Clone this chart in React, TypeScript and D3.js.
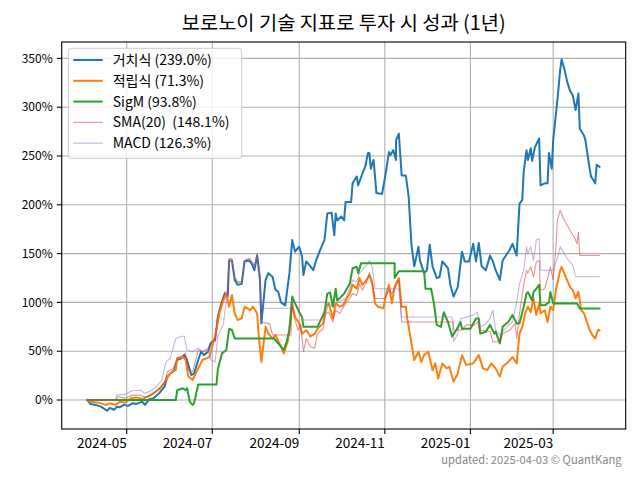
import React from "react";
import * as d3 from "d3";

const title = "보로노이 기술 지표로 투자 시 성과 (1년)";
const footer = "updated: 2025-04-03 © QuantKang";
const startDate = "2024-04-03";

const seriesNames = ["거치식 (239.0%)", "적립식 (71.3%)", "SigM (93.8%)", "SMA(20)\u00a0 (148.1%)", "MACD (126.3%)"];
const seriesColors = ["#1f77b4", "#ff7f0e", "#2ca02c", "#d62728", "#9467bd"];

const xTickLabels = ["2024-05", "2024-07", "2024-09", "2024-11", "2025-01", "2025-03"];
const yTickValues = [0, 50, 100, 150, 200, 250, 300, 350];

// days since start date, cumulative return (%)
const lumpDays = [0,2,6,10,14,16,19,21,23,26,29,32,35,39,41,44,47,51,55,57,59,62,64,67,69,71,74,76,79,81,83,86,88,91,93,95,98,100,101,103,105,107,110,112,115,117,119,121,123,124,127,129,132,134,136,138,141,144,146,148,151,153,154,156,159,161,163,166,169,171,174,176,177,178,181,183,184,188,189,192,193,196,198,200,201,202,204,206,210,212,215,216,218,220,220,222,224,227,229,231,233,236,237,240,242,244,246,249,251,253,257,259,261,264,267,269,272,275,277,279,281,284,287,289,291,294,296,301,303,306,308,310,311,313,314,316,317,319,322,323,326,328,329,331,332,335,337,338,340,342,344,346,348,350,351,354,355,358,359,362,363,365];
const lumpValues = [0,-4,-5,-7,-11,-8,-10,-7,-7.5,-5,-6,-3.4,-4,-1.7,-5,0.7,1.7,6.8,13.7,24,27,30.7,41,42.7,46,41,25.6,27,41,49.5,46,49.5,58,61,85,95.6,109,106,143,143,123,118,119,142,143,140,133,148,123,78.5,123,130,126,113,111,100,97,130,164,152,157,147,128,142,137,133,143,154,164,191,192,169,191,184,188,184,203,203,222,229,220,232,239,253,253,237,246,212,211,227,254,251,256,246,266,273,230,230,208,159,137,157,143,130,133,159,137,125,126,142,135,116,106,116,152,142,142,160,142,161,137,133,148,142,133,123,143,154,160,148,201,205,234,256,246,258,245,259,268,220,222,222,253,237,266,307,338,349,339,326,317,312,297,314,278,271,266,237,229,222,241,239];

const dcaDays = [0,2,8,13,16,20,23,27,31,35,39,43,47,52,56,59,63,64,68,70,72,75,79,82,87,89,92,94,97,99,101,103,105,107,110,112,116,118,121,122,124,127,129,132,134,138,140,143,146,148,151,153,156,159,162,164,168,170,172,175,177,180,182,184,187,189,192,194,196,199,201,203,205,207,211,213,215,217,219,222,224,227,228,231,233,236,238,240,243,246,248,250,253,256,258,261,264,267,270,275,279,282,285,288,291,294,296,300,303,306,308,310,312,314,316,318,320,322,323,326,328,330,332,334,337,338,341,344,346,348,350,352,354,358,360,362,364,365];
const dcaValues = [0,-1.7,-2.7,-5,-3.4,-5,-1.7,-2.7,1.7,2.7,1,3.4,6.8,12,20.5,27.3,30.7,42.7,44,41,24,20.5,32.4,41,44,54.6,71.7,88.7,102,109,95.6,107.5,88.7,82,83.6,95.6,92,95.6,88.7,68,39,75,68,63,66.6,54.6,47.8,61,99,85,78.5,68,71.7,65,68,73,78.5,95.6,99,83.6,99,95.6,97,102,109,118,114,125,118,123,128,119,99,95.6,94,109,118,99,116,125,95.6,95.6,83.6,58,41,49.5,39,46,49.5,30.7,37.5,22,37.5,32.4,34,18.8,27.3,46,36,37.5,46,32.4,30.7,37.5,32.4,24,34,39,44,37.5,68,75,88.7,95.6,90,104,87,99,88.7,92,80,95.6,92,112.6,133,136.5,126,116,112.6,104,111,92,88.7,71.7,66.6,63,72,71.3];

const sigmDays = [0,63,64,68,70,71,73,75,76,79,92,93,96,99,101,103,105,133,135,138,140,142,144,146,148,151,153,154,164,169,171,173,175,177,178,181,183,187,189,192,193,195,219,219,222,240,241,245,247,249,252,254,257,260,263,266,267,273,277,279,280,284,287,290,291,294,296,300,303,306,308,311,313,314,317,318,320,322,323,326,329,330,332,349,351,365];
const sigmValues = [0,0,10,12,10,12,-1.7,-5,-3.4,16,16,32,48,51,73,71.7,63,63,59.7,54.6,51,59.7,71.7,106,99,90,85,75,75,90,109,110,95.6,114,102,106,109,119,135,136.5,130,140,140,125,132,132,114,114,99,77,75,90,80,65,71.7,80,73,73,83.6,83.6,68,70,77,68,70,58,75,80,87,78.5,78.5,95.6,109,110.6,102,110.6,114,118,97,97,100,110.6,99,99,93.8,93.8];

const smaDays = [0,20,22,27,32,37,41,44,47,51,55,57,61,64,68,70,72,75,79,82,86,88,91,93,95,98,100,101,103,105,107,110,112,115,117,119,121,123,124,130,132,145,146,148,150,152,154,156,159,162,164,168,170,172,175,177,180,182,184,187,189,192,194,196,199,201,203,205,212,215,217,219,222,224,261,261,267,270,276,278,280,287,289,294,296,301,305,306,308,311,313,314,316,318,320,322,323,326,329,330,332,334,335,337,340,342,344,347,349,350,351,365];
const smaValues = [0,0,3.4,1.7,5,5,3.4,3.4,6.8,12,17,29,32,42.7,46,48,30.7,29,51,49.5,53,59.7,63,87,99,111,107.5,145,145,126,121,121,143,145,142,137,150,126,80,78,66.6,66.6,97,82,71.7,78,49.5,63,54.6,53,68,73,88.7,90,80,92,88.7,94,99,104,109,107,119,112.6,121,130,123,104,104,112.6,109,114,123,80,80,71.7,71.7,77,77,80,71.7,70,59.7,59.7,68,71.7,78.5,63,88.7,118,133,130,136.5,126,141.6,143,112.6,114,130,136.5,123,157,184,194.5,184,179,174,167,160,172,148.1,148.1];

const macdDays = [0,20,21,27,32,38,41,46,50,53,56,59,63,67,69,71,75,79,82,86,88,91,93,97,99,101,103,105,107,110,112,116,119,121,123,124,145,146,150,154,166,170,172,175,177,181,184,187,189,192,194,198,201,203,205,222,224,260,261,264,266,267,275,278,280,284,287,289,291,294,299,303,306,308,311,313,314,316,318,320,322,323,332,335,337,340,342,346,348,365];
const macdValues = [0,0,5,6,9.5,10,6.8,10,15,20.5,39,42.7,63,65,65.5,51,49.5,53,49.5,51,41,39,65,78.5,102,143,143,125,121,121,143,145,137,148,129,94,94,102,95,82,82,88.7,99,95.6,99,102,104,114,123,121,130,136.5,143,136.5,114,114,85,85,60,68,83.6,83.6,87,90,75,78,83.6,92,71.7,66.6,75,80,100,119,133,157,150,157,143,164,165.5,133,133,145,157,150,145,138,126.3,126.3];

const W = 640, H = 480;
const M = { left: 61.7, right: 625.7, top: 42, bottom: 429 };
const FONT = "'Noto Sans CJK KR', 'Noto Sans', sans-serif";

export default function App() {
  const parse = d3.timeParse("%Y-%m-%d");
  const start = parse(startDate) as Date;
  const x = d3.scaleTime()
    .domain([new Date(2024, 2, 15, 16), new Date(2025, 3, 21, 17)])
    .range([M.left, M.right]);
  const y = d3.scaleLinear().domain([-29.7, 366.8]).range([M.bottom, M.top]);

  const allDays = [lumpDays, dcaDays, sigmDays, smaDays, macdDays];
  const allValues = [lumpValues, dcaValues, sigmValues, smaValues, macdValues];
  const widths = [2, 2, 2, 1.1, 1.1];
  const opacities = [1, 1, 1, 0.5, 0.5];

  const line = d3.line<[Date, number]>().x(d => x(d[0])).y(d => y(d[1]));
  const paths = allDays.map((days, i) =>
    line(days.map((dd, j) => [d3.timeDay.offset(start, dd), allValues[i][j]] as [Date, number])) as string
  );

  const xTicks = xTickLabels.map(s => ({ label: s, date: d3.timeParse("%Y-%m")(s) as Date }));
  const yFmt = (v: number) => `${v}%`;

  const legX = 68.3, legY = 48.3, legW = 173.4, legH = 110, rowH = 20.8;

  return (
    <svg width={W} height={H} style={{ position: "absolute", left: 0, top: 0, background: "#fff" }} fontFamily={FONT}>
      <rect x={0} y={0} width={W} height={H} fill="#fff" />
      {xTicks.map(t => (
        <line key={"gx" + t.label} x1={x(t.date)} x2={x(t.date)} y1={M.top} y2={M.bottom} stroke="#b0b0b0" strokeWidth={1.1} />
      ))}
      {yTickValues.map(v => (
        <line key={"gy" + v} x1={M.left} x2={M.right} y1={y(v)} y2={y(v)} stroke="#b0b0b0" strokeWidth={1.1} />
      ))}
      <defs>
        <clipPath id="clip"><rect x={M.left} y={M.top} width={M.right - M.left} height={M.bottom - M.top} /></clipPath>
      </defs>
      <g clipPath="url(#clip)">
        {paths.map((p, i) => (
          <path key={i} d={p} fill="none" stroke={seriesColors[i]} strokeWidth={widths[i]} strokeOpacity={opacities[i]} strokeLinejoin="round" strokeLinecap="square" />
        ))}
      </g>
      <rect x={M.left} y={M.top} width={M.right - M.left} height={M.bottom - M.top} fill="none" stroke="#000" strokeWidth={1.1} />
      {xTicks.map(t => (
        <g key={"xt" + t.label} transform={`translate(${x(t.date)},${M.bottom})`}>
          <line y1={0} y2={4.9} stroke="#000" strokeWidth={1.1} />
          <text y={18.5} textAnchor="end" fontSize={13.5} fill="#000">{t.label}</text>
        </g>
      ))}
      {yTickValues.map(v => (
        <g key={"yt" + v} transform={`translate(${M.left},${y(v)})`}>
          <line x1={-4.9} x2={0} stroke="#000" strokeWidth={1.1} />
          <text x={-9} dy="0.35em" textAnchor="end" fontSize={12} fill="#000">{yFmt(v)}</text>
        </g>
      ))}
      <text x={(M.left + M.right) / 2} y={30} textAnchor="middle" fontSize={19.8} fill="#000">{title}</text>
      <rect x={legX} y={legY} width={legW} height={legH} rx={3} fill="#fff" fillOpacity={0.8} stroke="#cccccc" strokeWidth={1} />
      {seriesNames.map((n, i) => (
        <g key={"lg" + i} transform={`translate(${legX},${legY + 11.7 + i * rowH})`}>
          <line x1={5} x2={34.4} stroke={seriesColors[i]} strokeWidth={widths[i]} strokeOpacity={opacities[i]} />
          <text x={44.4} dy="0.35em" fontSize={14} fill="#000">{n}</text>
        </g>
      ))}
      <text x={621.7} y={464} textAnchor="end" fontSize={11.2} fill="#888">{footer}</text>
    </svg>
  );
}
